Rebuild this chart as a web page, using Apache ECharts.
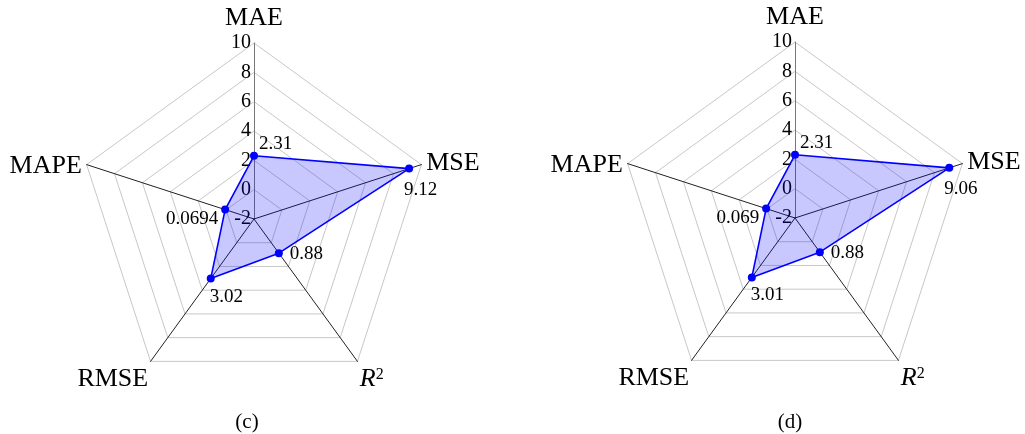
<!DOCTYPE html>
<html>
<head>
<meta charset="utf-8">
<script src="https://cdn.jsdelivr.net/npm/echarts@6/dist/echarts.min.js"></script>
<style>
  html, body { margin: 0; padding: 0; background: #fff; }
  #chart { width: 1025px; height: 434px; }
</style>
</head>
<body>
<div id="chart"></div>
<script>
// data (clockwise from top, as drawn: ECharts places indicators counter-clockwise)
const metrics = ['MAE', 'MAPE', 'RMSE', 'R2', 'MSE'];
const axisMin = -2;
const axisMax = 10;
const axisSplits = 6;
const valuesC = [2.31, 0.0694, 3.02, 0.88, 9.12];
const valuesD = [2.31, 0.069, 3.01, 0.88, 9.06];
const panelTitles = ['(c)', '(d)'];

// layout / style
const font = 'Liberation Serif';
const centers = [[254, 219], [795, 218]];
const titleX = [242, 785];
const radius = 176;
const nameGaps = [12, 5, 4, 4, 5];
const namePadTop = [0, 6, 30, 30, 0];
const labelAlign = ['left', 'right', 'left', 'left', 'left'];
const labelOffsets = [[5, -12], [-7, 9], [-1, 18], [11, 1], [-5, 21]];

const chart = echarts.init(document.getElementById('chart'));

const indicators = metrics.map((name, i) => ({
  name: name,
  min: axisMin,
  max: axisMax,
  nameGap: nameGaps[i],
  nameTextStyle: { padding: [namePadTop[i], 0, 0, 0] },
  axisLabel: { show: i === 0 },
  axisLine: { lineStyle: { color: i === 0 ? '#777' : '#222' } }
}));

function makeRadar(center) {
  return {
    center: center,
    radius: radius,
    startAngle: 90,
    shape: 'polygon',
    splitNumber: axisSplits,
    indicator: indicators,
    axisName: {
      color: '#000',
      fontFamily: font,
      fontSize: 26,
      formatter: name => name === 'R2' ? '{i|R}{s|2}' : name,
      rich: {
        i: { fontStyle: 'italic', fontFamily: font, fontSize: 26, color: '#000' },
        s: { fontFamily: font, fontSize: 16, color: '#000', verticalAlign: 'top' }
      }
    },
    axisLine: { show: true, lineStyle: { width: 1 } },
    axisTick: { show: false },
    axisLabel: {
      color: '#000',
      fontFamily: font,
      fontSize: 20,
      margin: 3
    },
    splitLine: { lineStyle: { color: '#c8c8c8', width: 1 } },
    splitArea: { show: false }
  };
}

function polygonSeries(values, idx) {
  return {
    type: 'radar',
    radarIndex: idx,
    symbol: 'circle',
    symbolSize: 8,
    silent: true,
    z: 3,
    itemStyle: { color: '#0000ff' },
    lineStyle: { color: '#0000ff', width: 1.6 },
    areaStyle: { color: 'rgba(0, 0, 255, 0.31)' },
    label: { show: false },
    data: [{ value: values }]
  };
}

// one invisible copy per dimension, each showing only its own value label
function labelSeries(values, idx) {
  return {
    type: 'radar',
    radarIndex: idx,
    symbol: 'circle',
    symbolSize: 1,
    silent: true,
    z: 4,
    itemStyle: { color: 'rgba(0,0,0,0)' },
    lineStyle: { width: 0, opacity: 0 },
    data: values.map((v, k) => ({
      value: values,
      label: {
        show: true,
        position: 'inside',
        align: labelAlign[k],
        verticalAlign: 'middle',
        offset: labelOffsets[k],
        color: '#000',
        opacity: 1,
        fontFamily: font,
        fontSize: 19,
        formatter: p => values.indexOf(p.value) === k ? String(p.value) : ''
      }
    }))
  };
}

const option = {
  backgroundColor: '#fff',
  animation: false,
  title: panelTitles.map((t, i) => ({
    text: t,
    left: titleX[i],
    textAlign: 'center',
    top: 407,
    textStyle: { fontFamily: font, fontSize: 21, fontWeight: 'normal', color: '#000' }
  })),
  radar: centers.map(makeRadar),
  series: [
    polygonSeries(valuesC, 0),
    polygonSeries(valuesD, 1),
    labelSeries(valuesC, 0),
    labelSeries(valuesD, 1)
  ]
};

chart.setOption(option);
</script>
</body>
</html>
